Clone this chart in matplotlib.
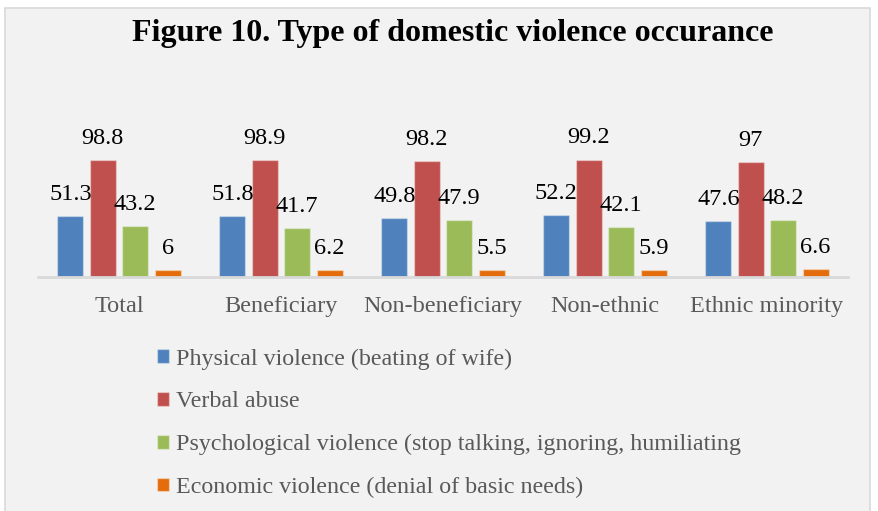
import numpy as np
import matplotlib.pyplot as plt
from matplotlib.patches import Rectangle

plt.rcParams['font.family'] = ['Liberation Serif', 'DejaVu Serif']

categories = ['Total', 'Beneficiary', 'Non-beneficiary', 'Non-ethnic', 'Ethnic minority']
physical = [51.3, 51.8, 49.8, 52.2, 47.6]
verbal = [98.8, 98.9, 98.2, 99.2, 97]
psychological = [43.2, 41.7, 47.9, 42.1, 48.2]
economic = [6, 6.2, 5.5, 5.9, 6.6]
series_names = ['Physical violence (beating of wife)', 'Verbal abuse',
                'Psychological violence (stop talking, ignoring, humiliating',
                'Economic violence (denial of basic needs)']
colors = ['#4f81bd', '#c0504d', '#9bbb59', '#e46c0a']

fig = plt.figure(figsize=(8.79, 5.11), dpi=100, facecolor='white')
fig.patches.append(Rectangle((5 / 879, -0.01), 865 / 879, 1 - 8 / 511 + 0.01,
                             transform=fig.transFigure, facecolor='#f2f2f2',
                             edgecolor='#d9d9d9', linewidth=1.2, zorder=-5))

ax = fig.add_axes([38 / 879, 1 - 277 / 511, 810 / 879, 110 * 1.184 / 511])
ax.set_facecolor('none')

x = np.arange(len(categories))
width = 0.16
step = 0.2
all_series = [physical, verbal, psychological, economic]
for i, (vals, name, c) in enumerate(zip(all_series, series_names, colors)):
    pos = x + (i - 1.5) * step
    bars = ax.bar(pos, vals, width, color=c, label=name,
                  edgecolor=(1, 1, 1, 0.35), linewidth=1)
    for b, v in zip(bars, vals):
        ax.annotate(f'{v:g}', (b.get_x() + b.get_width() / 2, v),
                    xytext=(0, 8), textcoords='offset points',
                    ha='center', va='bottom', fontsize=17.5, color='black',
                    family='Liberation Serif', annotation_clip=False)

ax.set_xlim(-0.5, len(categories) - 0.5)
ax.set_ylim(0, 110)
ax.set_xticks(x)
ax.set_xticklabels(categories, fontsize=17.5, color='#595959')
ax.tick_params(axis='x', length=0, pad=14)
ax.set_yticks([])
for s in ['top', 'right', 'left']:
    ax.spines[s].set_visible(False)
ax.spines['bottom'].set_color('#d9d9d9')
ax.spines['bottom'].set_linewidth(2)

fig.text(453 / 879, 1 - 33 / 511, 'Figure 10. Type of domestic violence occurance',
         ha='center', va='center', fontsize=23, fontweight='bold')

leg = fig.legend(loc='upper left', bbox_to_anchor=(147 / 879, 1 - 339 / 511),
                 frameon=False, fontsize=17.3, handlelength=0.5, handleheight=0.5,
                 handletextpad=0.3, labelspacing=0.9, borderaxespad=0)
for t in leg.get_texts():
    t.set_color('#595959')

fig.savefig('out.png', dpi=100, facecolor=fig.get_facecolor())
